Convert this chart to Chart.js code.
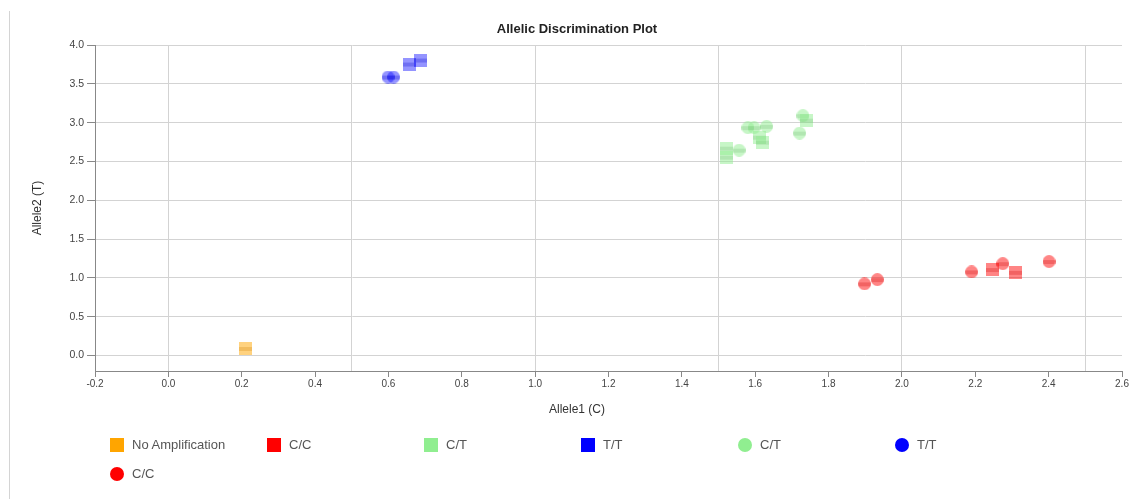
<!DOCTYPE html>
<html>
<head>
<meta charset="utf-8">
<script src="https://cdn.jsdelivr.net/npm/chart.js@4.4.1/dist/chart.umd.min.js"></script>
<style>
  html, body { margin: 0; padding: 0; background: #fff; }
  #wrap { position: relative; width: 1130px; height: 499px; overflow: hidden; font-family: "Liberation Sans", Arial, sans-serif; }
  #edge { position: absolute; left: 9px; top: 11px; bottom: 0; width: 1px; background: #d4d4d4; }
  #chart { position: absolute; left: 0; top: 0; }
  #legend { position: absolute; left: 110px; top: 430px; width: 960px; display: flex; flex-wrap: wrap; }
  .item { width: 157px; height: 29px; display: flex; align-items: center; font-size: 13px; color: #555; }
  .mark { width: 14px; height: 14px; margin-right: 8px; flex: none; }
</style>
</head>
<body>
<div id="wrap">
  <div id="edge"></div>
  <canvas id="chart" width="1130" height="499"></canvas>
  <div id="legend"></div>
</div>
<script>
// values (Allele1 = x, Allele2 = y)
const noAmpX = [0.21];
const noAmpY = [0.09];

const ccSquareX = [2.247, 2.309];
const ccSquareY = [1.107, 1.071];

const ctSquareX = [1.523, 1.523, 1.613, 1.62, 1.741];
const ctSquareY = [2.671, 2.555, 2.813, 2.748, 3.032];

const ttSquareX = [0.657, 0.687];
const ttSquareY = [3.755, 3.806];

const ctCircleX = [1.556, 1.58, 1.597, 1.631, 1.721, 1.73];
const ctCircleY = [2.645, 2.935, 2.935, 2.952, 2.865, 3.09];

const ttCircleX = [0.599, 0.614];
const ttCircleY = [3.587, 3.587];

const ccCircleX = [1.898, 1.933, 2.19, 2.275, 2.401];
const ccCircleY = [0.923, 0.978, 1.077, 1.183, 1.21];

const xTicks = { min: -0.2, max: 2.6, step: 0.2 };
const yTicks = { min: -0.2, max: 4.0, step: 0.5 };

const ORANGE = '255,165,0';
const RED = '255,0,0';
const GREEN = '144,238,144';
const BLUE = '0,0,255';

function points(xs, ys) {
  return xs.map((x, i) => ({ x: x, y: ys[i] }));
}

// translucent marker with the darker band seen in the original
function marker(shape, rgb, alpha) {
  const c = document.createElement('canvas');
  c.width = 13;
  c.height = 13;
  const g = c.getContext('2d');
  g.beginPath();
  if (shape === 'circle') g.arc(6.5, 6.5, 6.5, 0, Math.PI * 2);
  else g.rect(0, 0, 13, 13);
  g.fillStyle = 'rgba(' + rgb + ',' + alpha + ')';
  g.fill();
  g.clip();
  g.fillStyle = 'rgba(' + rgb + ',0.22)';
  g.fillRect(0, 5, 13, 4);
  g.fillStyle = 'rgba(0,0,0,0.05)';
  g.fillRect(0, 5, 13, 4);
  return c;
}

function series(label, xs, ys, shape, rgb, alpha) {
  return {
    label: label,
    data: points(xs, ys),
    pointStyle: marker(shape, rgb, alpha),
    pointRadius: 6,
    pointHoverRadius: 6,
    legendShape: shape,
    legendColor: 'rgb(' + rgb + ')'
  };
}

const datasets = [
  series('No Amplification', noAmpX, noAmpY, 'square', ORANGE, 0.5),
  series('C/C', ccSquareX, ccSquareY, 'square', RED, 0.48),
  series('C/T', ctSquareX, ctSquareY, 'square', GREEN, 0.5),
  series('T/T', ttSquareX, ttSquareY, 'square', BLUE, 0.42),
  series('C/T', ctCircleX, ctCircleY, 'circle', GREEN, 0.5),
  series('T/T', ttCircleX, ttCircleY, 'circle', BLUE, 0.42),
  series('C/C', ccCircleX, ccCircleY, 'circle', RED, 0.48)
];

Chart.defaults.font.family = '"Liberation Sans", Arial, sans-serif';

const chart = new Chart(document.getElementById('chart').getContext('2d'), {
  type: 'scatter',
  data: { datasets: datasets },
  options: {
    responsive: false,
    animation: false,
    layout: { padding: { left: 24, right: 0, top: 0, bottom: 81.8 } },
    plugins: {
      legend: { display: false },
      tooltip: { enabled: false },
      title: {
        display: true,
        text: 'Allelic Discrimination Plot',
        color: '#222',
        font: { size: 13, weight: 'bold' },
        padding: { top: 21.5, bottom: 7.9 }
      },
      subtitle: {
        display: true,
        position: 'bottom',
        text: 'Allele1 (C)',
        color: '#333',
        font: { size: 12 },
        padding: { top: 5.8, bottom: 0 }
      }
    },
    scales: {
      x: {
        type: 'linear',
        position: 'bottom',
        min: xTicks.min,
        max: xTicks.max,
        ticks: {
          stepSize: xTicks.step,
          includeBounds: false,
          color: '#444',
          font: { size: 10 },
          padding: 1,
          maxRotation: 0,
          autoSkip: false,
          callback: v => Number(v).toFixed(1)
        },
        grid: { drawOnChartArea: false, tickLength: 6, tickColor: '#888' },
        border: { color: '#888' },
        afterFit: s => { s.height = 26; }
      },
      xGrid: {
        type: 'linear',
        position: 'top',
        min: xTicks.min,
        max: xTicks.max,
        ticks: { display: false, stepSize: 0.5, includeBounds: false },
        grid: { color: '#d3d3d3', drawTicks: false },
        border: { display: false },
        afterFit: s => { s.height = 0; }
      },
      y: {
        type: 'linear',
        position: 'left',
        min: yTicks.min,
        max: yTicks.max,
        title: {
          display: true,
          text: 'Allele2 (T)',
          color: '#333',
          font: { size: 12 },
          padding: { top: 6.8, bottom: 0 }
        },
        ticks: {
          stepSize: yTicks.step,
          includeBounds: false,
          color: '#444',
          font: { size: 10.5 },
          padding: 3,
          callback: v => Number(v).toFixed(1)
        },
        grid: { color: '#d3d3d3', tickLength: 8, tickColor: '#888' },
        border: { color: '#888' },
        afterFit: s => { s.width = 71; }
      },
      yRight: {
        type: 'linear',
        position: 'right',
        ticks: { display: false },
        grid: { display: false },
        border: { display: false },
        afterFit: s => { s.width = 8; }
      }
    }
  }
});

// legend laid out on a fixed grid like the original
const legend = document.getElementById('legend');
chart.data.datasets.forEach(ds => {
  const item = document.createElement('div');
  item.className = 'item';
  const mark = document.createElement('span');
  mark.className = 'mark';
  mark.style.background = ds.legendColor;
  if (ds.legendShape === 'circle') mark.style.borderRadius = '50%';
  const text = document.createElement('span');
  text.textContent = ds.label;
  item.appendChild(mark);
  item.appendChild(text);
  legend.appendChild(item);
});
</script>
</body>
</html>
